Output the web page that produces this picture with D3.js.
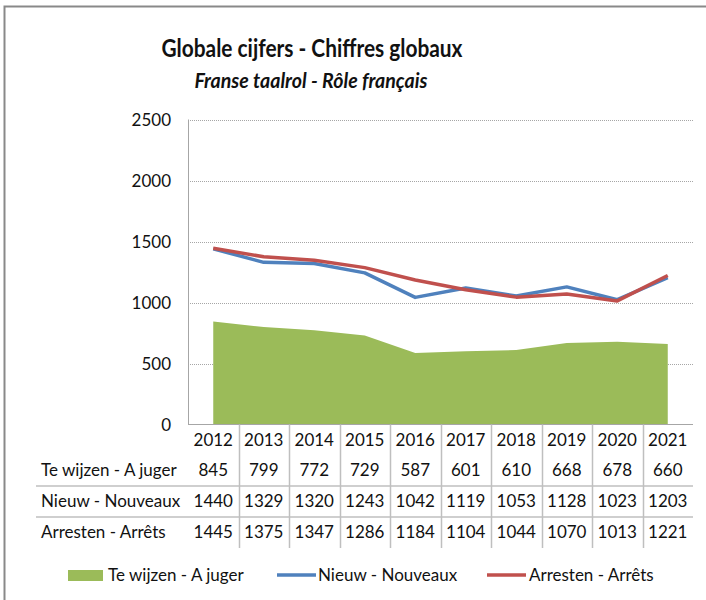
<!DOCTYPE html>
<html>
<head>
<meta charset="utf-8">
<script src="https://cdn.jsdelivr.net/npm/d3@7"></script>
<style>
  body { margin: 0; background: #fff; }
  text { font-family: Lato, "Open Sans", sans-serif; fill: #111; }
</style>
</head>
<body>
<script>
// data
var years = ["2012", "2013", "2014", "2015", "2016", "2017", "2018", "2019", "2020", "2021"];
var teWijzen = [845, 799, 772, 729, 587, 601, 610, 668, 678, 660];
var nieuw = [1440, 1329, 1320, 1243, 1042, 1119, 1053, 1128, 1023, 1203];
var arresten = [1445, 1375, 1347, 1286, 1184, 1104, 1044, 1070, 1013, 1221];
var yTicks = [0, 500, 1000, 1500, 2000, 2500];

var rows = [
	{ name: "Te wijzen - A juger", values: teWijzen, color: "#9bbb59" },
	{ name: "Nieuw - Nouveaux", values: nieuw, color: "#4f81bd" },
	{ name: "Arresten - Arrêts", values: arresten, color: "#c0504d" }
];

var width = 706;
var height = 600;
var plotLeft = 188, plotRight = 693, plotTop = 119.5, plotBottom = 424.5;

var svg = d3
	.select("body")
	.append("svg")
	.attr("width", width)
	.attr("height", height);

// outer frame (only left and top visible)
svg.append("rect")
	.attr("x", 4.5).attr("y", 6.5)
	.attr("width", 720).attr("height", 620)
	.attr("fill", "none")
	.attr("stroke", "#898989")
	.attr("stroke-width", 2);

var x = d3.scalePoint().domain(years).range([plotLeft, plotRight]).padding(0.5);
var band = (plotRight - plotLeft) / years.length;
var y = d3.scaleLinear().domain([0, 2500]).range([plotBottom, plotTop]);

// gridlines
svg.selectAll(".grid")
	.data(yTicks.filter(function (d) { return d > 0; }))
	.enter()
	.append("line")
	.attr("x1", plotLeft).attr("x2", plotRight)
	.attr("y1", function (d) { return Math.round(y(d)) + 0.5; })
	.attr("y2", function (d) { return Math.round(y(d)) + 0.5; })
	.attr("stroke", "#a6a6a6")
	.attr("stroke-dasharray", "1,1");

// y labels
svg.selectAll(".ylab")
	.data(yTicks)
	.enter()
	.append("text")
	.attr("x", 171)
	.attr("y", function (d) { return y(d) + 6; })
	.attr("text-anchor", "end")
	.style("font-size", "17px")
	.text(function (d) { return d; });

// area
var area = d3.area()
	.x(function (d, i) { return x(years[i]); })
	.y0(y(0))
	.y1(function (d) { return y(d); });

svg.append("path")
	.datum(teWijzen)
	.attr("d", area)
	.attr("fill", "#9bbb59");

// lines
var line = d3.line()
	.x(function (d, i) { return x(years[i]); })
	.y(function (d) { return y(d); });

[nieuw, arresten].forEach(function (vals, k) {
	svg.append("path")
		.datum(vals)
		.attr("d", line)
		.attr("fill", "none")
		.attr("stroke", rows[k + 1].color)
		.attr("stroke-width", 3.5)
		.attr("stroke-linejoin", "round");
});

// axes
svg.append("line")
	.attr("x1", plotLeft + 0.5).attr("x2", plotLeft + 0.5)
	.attr("y1", plotTop).attr("y2", plotBottom)
	.attr("stroke", "#a6a6a6");

svg.append("line")
	.attr("x1", plotLeft).attr("x2", plotRight)
	.attr("y1", plotBottom).attr("y2", plotBottom)
	.attr("stroke", "#a6a6a6");

// data table
var rowY = [440, 470, 501, 532];
var tableBottom = 548;

svg.selectAll(".vline")
	.data(years.slice(1))
	.enter()
	.append("line")
	.attr("x1", function (d) { return Math.round(x(d) - band / 2) + 0.5; })
	.attr("x2", function (d) { return Math.round(x(d) - band / 2) + 0.5; })
	.attr("y1", plotBottom).attr("y2", tableBottom)
	.attr("stroke", "#bfbfbf")
	.attr("stroke-width", 1.5);

[486, 517].forEach(function (ly) {
	svg.append("line")
		.attr("x1", 36).attr("x2", plotRight)
		.attr("y1", ly).attr("y2", ly)
		.attr("stroke", "#bfbfbf")
		.attr("stroke-width", 1.5);
});

svg.selectAll(".year")
	.data(years)
	.enter()
	.append("text")
	.attr("x", function (d) { return x(d); })
	.attr("y", rowY[0] + 6)
	.attr("text-anchor", "middle")
	.style("font-size", "17px")
	.text(function (d) { return d; });

rows.forEach(function (r, k) {
	svg.append("text")
		.attr("x", 41)
		.attr("y", rowY[k + 1] + 6)
		.style("font-size", "17px")
		.text(r.name);

	svg.selectAll(".cell" + k)
		.data(r.values)
		.enter()
		.append("text")
		.attr("x", function (d, i) { return x(years[i]); })
		.attr("y", rowY[k + 1] + 6)
		.attr("text-anchor", "middle")
		.style("font-size", "17px")
		.text(function (d) { return d; });
});

// titles
svg.append("text")
	.attr("x", 312).attr("y", 57)
	.attr("text-anchor", "middle")
	.attr("textLength", 301)
	.attr("lengthAdjust", "spacingAndGlyphs")
	.style("font-size", "24px")
	.style("font-weight", "bold")
	.text("Globale cijfers - Chiffres globaux");

svg.append("text")
	.attr("x", 311).attr("y", 88)
	.attr("text-anchor", "middle")
	.attr("textLength", 233)
	.attr("lengthAdjust", "spacingAndGlyphs")
	.style("font-size", "20.5px")
	.style("font-weight", "bold")
	.style("font-style", "italic")
	.text("Franse taalrol - Rôle français");

// legend
var legend = [
	{ x: 68, tx: 108 },
	{ x: 277, tx: 318 },
	{ x: 487, tx: 529 }
];

legend.forEach(function (l, k) {
	if (k === 0) {
		svg.append("rect")
			.attr("x", l.x).attr("y", 570)
			.attr("width", 35).attr("height", 11)
			.attr("fill", rows[k].color);
	} else {
		svg.append("line")
			.attr("x1", l.x).attr("x2", l.x + 39)
			.attr("y1", 575).attr("y2", 575)
			.attr("stroke", rows[k].color)
			.attr("stroke-width", 3.5);
	}
	svg.append("text")
		.attr("x", l.tx).attr("y", 581)
		.style("font-size", "17px")
		.text(rows[k].name);
});
</script>
</body>
</html>
